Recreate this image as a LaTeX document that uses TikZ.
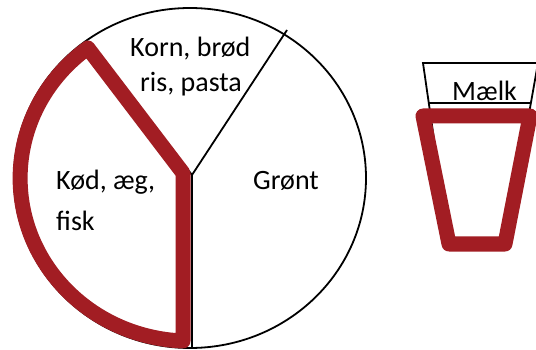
\documentclass[tikz,border=0pt]{standalone}
\usepackage{fontspec}
\setmainfont{Carlito}
\definecolor{wine}{RGB}{162,29,35}
\begin{document}
\begin{tikzpicture}[x=1pt,y=-1pt,
  thin line/.style={draw=black,line width=1.8pt},
  red outline/.style={draw=wine,line width=15pt,line join=round,line cap=round},
  lbl/.style={anchor=base west,inner sep=0pt,font=\fontsize{28}{34}\selectfont}]
\useasboundingbox (0,0) rectangle (536,350);
\clip (0,0) rectangle (536,350);
\fill[white] (0,0) rectangle (536,350);
% pie
\coordinate (c) at (192,175);
\coordinate (tr) at (287,30);
\coordinate (bt) at (192,349);
\coordinate (tl) at (90,42);
\draw[thin line] (190,178) ellipse [x radius=176, y radius=170];
\draw[thin line] (c) -- (tr);
\draw[thin line] (c) -- (bt);
\draw[thin line] (c) -- (tl);
\draw[red outline] (183,173) -- (183,341)
  arc[start angle=92.4, end angle=233, x radius=170, y radius=163] -- cycle;
\node[lbl] (korn) at (130,57) {Korn, brød};
\node[lbl] (ris) at (140,92) {ris, pasta};
\node[lbl] (kod) at (56,190) {Kød, æg,};
\node[lbl] (fisk) at (56,230) {fisk};
\node[lbl] (gront) at (253,190) {Grønt};
% glass
\coordinate (g1) at (423,63);
\coordinate (g2) at (538,63);
\coordinate (g3) at (506,243);
\coordinate (g4) at (449,243);
\draw[thin line,fill=white] (g1) -- (g2) -- (g3) -- (g4) -- cycle;
\coordinate (m1) at (428.8,103);
\coordinate (m2) at (531,103);
\draw[thin line] (m1) -- (m2);
\node[lbl] (maelk) at (452,101) {Mælk};
\draw[red outline] (423,116) -- (530,116) -- (505,244) -- (449,244) -- cycle;
\end{tikzpicture}
\end{document}
